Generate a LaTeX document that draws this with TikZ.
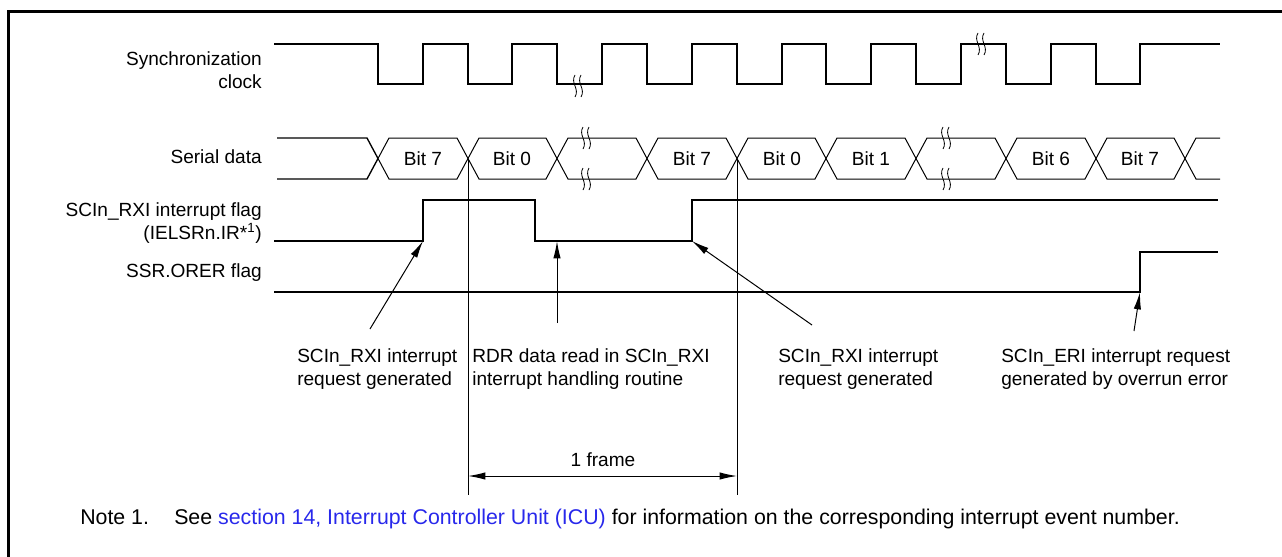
\documentclass[tikz,border=0pt]{standalone}
\usepackage{fontspec}
\setmainfont{Liberation Sans}
\usepackage{xcolor}
\usepackage{tikz}
\usetikzlibrary{positioning, arrows.meta}
\definecolor{linkblue}{RGB}{40,40,235}

\begin{document}
\begin{tikzpicture}[
  x=0.75pt, y=-0.75pt,
  wave/.style={line width=1.5pt},
  hexw/.style={line width=0.75pt},
  thinl/.style={line width=0.75pt},
  sig/.style={font=\fontsize{14.3}{17.25}\selectfont, align=right, anchor=east, inner sep=0pt},
  ann/.style={font=\fontsize{14.3}{17.25}\selectfont, align=left, anchor=west, inner sep=0pt},
  bitl/.style={font=\fontsize{14.3}{17.25}\selectfont, inner sep=0pt},
  notel/.style={font=\fontsize{16}{19}\selectfont, anchor=base west, inner sep=0pt},
  arr/.style={-{Latex[length=13pt, width=5.5pt]}, line width=0.75pt},
  darr/.style={{Latex[length=13pt, width=5.5pt]}-{Latex[length=13pt, width=5.5pt]}, line width=0.75pt},
  brk/.pic={
    \draw[line width=0.6pt] (-3,-11) .. controls (-8,-3) and (2,3) .. (-3,11);
    \draw[line width=0.6pt] (3,-11) .. controls (-2,-3) and (8,3) .. (3,11);
  }
]
\useasboundingbox (0,0) rectangle (1282,557);
% frame
\draw[line width=2.2pt] (8.5,557) -- (8.5,11.5) -- (1282,11.5);

% --- Signal names ---
\node[sig] (clk) at (262,70.5) {Synchronization\\clock};
\node[sig] (sd) at (262,157) {Serial data};
\node[sig] (rxi) at (262,223.5) {SCIn\_RXI interrupt flag\\(IELSRn.IR*\textsuperscript{1})};
\node[sig] (orer) at (262,273) {SSR.ORER flag};

% --- Synchronization clock ---
\draw[wave] (274,44) -- (378,44) -- (378,84) -- (423,84) -- (423,44) -- (468,44) -- (468,84)
  -- (512,84) -- (512,44) -- (557,44) -- (557,84) -- (602,84) -- (602,44) -- (647,44) -- (647,84)
  -- (692,84) -- (692,44) -- (737,44) -- (737,84) -- (782,84) -- (782,44) -- (826,44) -- (826,84)
  -- (871,84) -- (871,44) -- (916,44) -- (916,84) -- (961,84) -- (961,44) -- (1006,44) -- (1006,84)
  -- (1051,84) -- (1051,44) -- (1096,44) -- (1096,84) -- (1140,84) -- (1140,44) -- (1220,44);
\pic at (578,86) {brk};
\pic at (981,44) {brk};

% --- Serial data ---
\draw[line width=1pt] (277,138) -- (367,138) -- (378,158.5);
\draw[line width=1pt] (277,179) -- (367,179) -- (378,158.5);
\draw[hexw] (378,158.5) -- (389,138) -- (457,138) -- (468,158.5) -- (457,179) -- (389,179) -- cycle;
\draw[hexw] (468,158.5) -- (479,138) -- (546,138) -- (557,158.5) -- (546,179) -- (479,179) -- cycle;
\draw[hexw] (557,158.5) -- (568,138) -- (636,138) -- (647,158.5) -- (636,179) -- (568,179) -- cycle;
\draw[hexw] (647,158.5) -- (658,138) -- (726,138) -- (737,158.5) -- (726,179) -- (658,179) -- cycle;
\draw[hexw] (737,158.5) -- (748,138) -- (815,138) -- (826,158.5) -- (815,179) -- (748,179) -- cycle;
\draw[hexw] (826,158.5) -- (837,138) -- (905,138) -- (916,158.5) -- (905,179) -- (837,179) -- cycle;
\draw[hexw] (916,158.5) -- (927,138) -- (995,138) -- (1006,158.5) -- (995,179) -- (927,179) -- cycle;
\draw[hexw] (1006,158.5) -- (1017,138) -- (1085,138) -- (1096,158.5) -- (1085,179) -- (1017,179) -- cycle;
\draw[hexw] (1096,158.5) -- (1107,138) -- (1174,138) -- (1185,158.5) -- (1174,179) -- (1107,179) -- cycle;
\draw[hexw] (1220,138) -- (1196,138) -- (1185,158.5) -- (1196,179) -- (1220,179);
\pic at (586,138) {brk};
\pic at (586,179) {brk};
\pic at (946,138) {brk};
\pic at (946,179) {brk};
\node[bitl] (b7a) at (423,158.5) {Bit 7};
\node[bitl] (b0a) at (512,158.5) {Bit 0};
\node[bitl] (b7b) at (692,158.5) {Bit 7};
\node[bitl] (b0b) at (782,158.5) {Bit 0};
\node[bitl] (b1b) at (871,158.5) {Bit 1};
\node[bitl] (b6b) at (1051,158.5) {Bit 6};
\node[bitl] (b7c) at (1140,158.5) {Bit 7};

% --- Flags ---
\draw[wave] (274,241) -- (423,241) -- (423,200) -- (535,200) -- (535,241) -- (692,241) -- (692,200) -- (1218,200);
\draw[wave] (274,292) -- (1140,292) -- (1140,252) -- (1218,252);

% --- Frame markers ---
\coordinate (fa) at (468,158.5);
\coordinate (fb) at (737,158.5);
\coordinate (fa2) at (468,495);
\coordinate (fb2) at (737,495);
\draw[thinl] (fa) -- (fa2);
\draw[thinl] (fb) -- (fb2);
\coordinate (fl) at (468,476);
\coordinate (fr) at (737,476);
\draw[darr] (fl) -- (fr);
\node[bitl] (frm) at (603,460) {1 frame};

% --- Annotations ---
\node[ann] (ann1) at (297,369.5) {SCIn\_RXI interrupt\\request generated};
\node[ann] (ann2) at (472,369.5) {RDR data read in SCIn\_RXI\\interrupt handling routine};
\node[ann] (ann3) at (778,369.5) {SCIn\_RXI interrupt\\request generated};
\node[ann] (ann4) at (1001,369.5) {SCIn\_ERI interrupt request\\generated by overrun error};
\coordinate (t1) at (370,329);
\coordinate (p1) at (423,241);
\coordinate (t2) at (557,323);
\coordinate (p2) at (557,241);
\coordinate (t3) at (812,325);
\coordinate (p3) at (692,241);
\coordinate (t4) at (1134,331);
\coordinate (p4) at (1140,292);
\draw[arr] (t1) -- (p1);
\draw[arr] (t2) -- (p2);
\draw[arr] (t3) -- (p3);
\draw[arr] (t4) -- (p4);

% --- Note ---
\node[notel] (n1) at (80,524) {Note 1.};
\node[notel] (n2) at (174,524) {See \textcolor{linkblue}{section 14, Interrupt Controller Unit (ICU)} for information on the corresponding interrupt event number.};
\end{tikzpicture}
\end{document}
